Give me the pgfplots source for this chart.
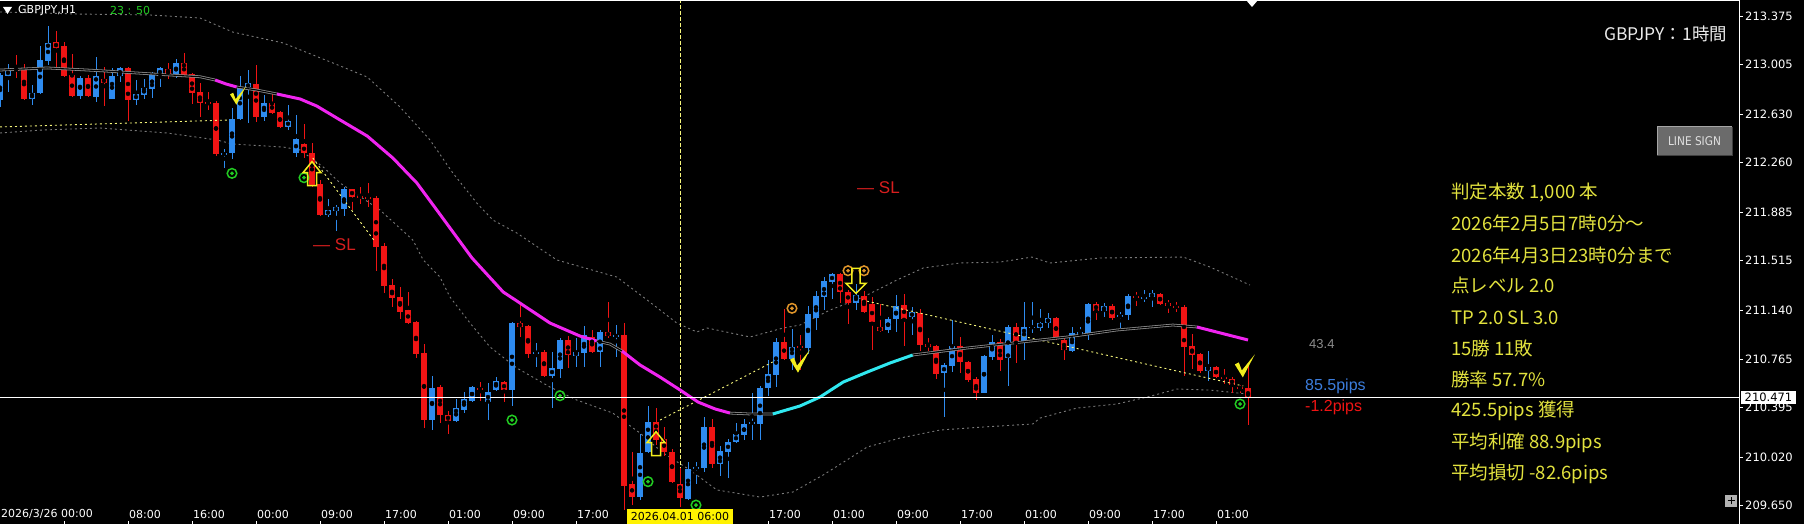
\documentclass[border=0pt]{standalone}
\usepackage{fontspec}
\usepackage{pgfplots}
\usepackage{pgfplotstable}
\pgfplotsset{compat=1.18}
\setmainfont{DejaVu Sans}
\newfontfamily\lib{Liberation Sans}
\newfontfamily\cjk{Noto Sans CJK JP}
\definecolor{cblue}{HTML}{2E8BEF}
\definecolor{cred}{HTML}{F01414}
\definecolor{cmag}{HTML}{F024F0}
\definecolor{ccyan}{HTML}{30E8F0}
\definecolor{cgrayma}{HTML}{8C8C8C}
\definecolor{cband}{HTML}{7A7A7A}
\definecolor{ctrend}{HTML}{F5F57A}
\definecolor{cgreen}{HTML}{22CC22}
\definecolor{corange}{HTML}{E0952A}
\definecolor{cyel}{HTML}{F2EE1E}
\definecolor{cstat}{HTML}{E2E23E}
\definecolor{cpipblue}{HTML}{3C7DDC}
\definecolor{cslred}{HTML}{D81E1E}

\pgfdeclareplotmark{uparrow}{%
 \pgfpathmoveto{\pgfqpoint{0pt}{0pt}}%
 \pgfpathlineto{\pgfqpoint{9pt}{-11pt}}%
 \pgfpathlineto{\pgfqpoint{4.5pt}{-11pt}}%
 \pgfpathlineto{\pgfqpoint{4.5pt}{-24pt}}%
 \pgfpathlineto{\pgfqpoint{-4.5pt}{-24pt}}%
 \pgfpathlineto{\pgfqpoint{-4.5pt}{-11pt}}%
 \pgfpathlineto{\pgfqpoint{-9pt}{-11pt}}%
 \pgfpathclose
 \pgfusepathqstroke}
\pgfdeclareplotmark{downarrow}{%
 \pgfpathmoveto{\pgfqpoint{0pt}{0pt}}%
 \pgfpathlineto{\pgfqpoint{10pt}{10pt}}%
 \pgfpathlineto{\pgfqpoint{4.2pt}{10pt}}%
 \pgfpathlineto{\pgfqpoint{4.2pt}{25pt}}%
 \pgfpathlineto{\pgfqpoint{-4.2pt}{25pt}}%
 \pgfpathlineto{\pgfqpoint{-4.2pt}{10pt}}%
 \pgfpathlineto{\pgfqpoint{-10pt}{10pt}}%
 \pgfpathclose
 \pgfusepathqstroke}
\pgfdeclareplotmark{chk}{%
 \pgfpathmoveto{\pgfqpoint{-10pt}{2pt}}%
 \pgfpathlineto{\pgfqpoint{-6pt}{4pt}}%
 \pgfpathlineto{\pgfqpoint{-3pt}{-4pt}}%
 \pgfpathlineto{\pgfqpoint{10pt}{12pt}}%
 \pgfpathlineto{\pgfqpoint{-2pt}{-11pt}}%
 \pgfpathclose
 \pgfusepathqfill}

% bullish candles: bar index, open, high, low, close
\pgfplotstableread{
i o h l c
0 212.737 212.943 212.684 212.927
1 212.920 213.011 212.800 212.971
4 212.745 212.851 212.704 212.788
5 212.788 213.148 212.783 213.041
6 213.034 213.300 213.003 213.173
10 212.768 212.920 212.745 212.907
12 212.762 213.064 212.724 212.920
14 212.745 212.978 212.742 212.920
15 212.920 212.991 212.876 212.978
17 212.737 212.889 212.699 212.783
18 212.775 212.897 212.745 212.831
19 212.821 212.952 212.750 212.935
20 212.920 212.991 212.838 212.983
22 212.920 213.049 212.902 213.021
28 212.319 212.362 212.217 212.334
29 212.332 212.676 212.290 212.590
30 212.590 212.920 212.585 212.836
31 212.834 212.965 212.560 212.864
33 212.608 212.775 212.580 212.717
36 212.534 212.699 212.509 212.580
37 212.336 212.623 212.301 212.438
41 211.862 211.982 211.849 211.900
42 211.895 211.938 211.743 211.921
43 211.905 212.073 211.854 212.058
54 210.302 210.637 210.226 210.548
57 210.297 210.460 210.285 210.396
58 210.378 210.518 210.358 210.460
59 210.449 210.561 210.441 210.551
61 210.441 210.586 210.302 210.513
62 210.530 210.627 210.525 210.601
64 210.530 211.050 210.411 211.038
67 210.810 210.886 210.708 210.822
69 210.637 210.822 210.391 210.700
70 210.690 210.924 210.619 210.911
72 210.789 210.931 210.708 210.822
73 210.814 211.017 210.708 210.949
75 210.822 210.987 210.708 210.974
77 210.936 211.025 210.779 210.949
80 209.719 210.196 209.690 210.051
81 210.055 210.409 210.049 210.285
86 209.701 209.985 209.697 209.929
87 209.927 209.985 209.820 209.945
88 209.935 210.323 209.909 210.251
90 209.967 210.104 209.876 210.066
91 210.061 210.155 209.859 210.137
92 210.132 210.277 210.125 210.196
93 210.188 210.307 210.150 210.272
94 210.272 210.510 210.150 210.289
95 210.277 210.561 210.150 210.548
96 210.543 210.764 210.485 210.657
97 210.644 210.924 210.556 210.898
99 210.769 210.997 210.683 210.858
101 210.854 211.173 210.804 211.109
102 211.076 211.288 210.987 211.246
103 211.236 211.390 211.139 211.360
104 211.355 211.423 211.223 211.413
107 211.195 211.337 211.139 211.253
111 210.987 211.088 210.966 211.071
112 211.068 211.253 210.974 211.170
114 211.084 211.160 210.949 211.126
118 210.657 210.738 210.327 210.721
119 210.713 211.063 210.667 210.865
123 210.510 210.797 210.508 210.789
124 210.784 210.949 210.759 210.898
126 210.772 211.025 210.561 211.012
128 210.898 211.202 210.759 211.012
129 211.005 211.202 210.962 211.012
130 211.006 211.152 210.979 211.040
131 211.040 211.116 211.002 211.078
134 210.829 211.008 210.822 210.962
135 210.959 211.008 210.949 210.970
136 210.959 211.195 210.911 211.190
138 211.134 211.190 211.088 211.170
140 211.084 211.122 211.000 211.101
141 211.101 211.261 211.063 211.246
143 211.228 211.291 211.202 211.240
144 211.236 211.291 211.164 211.269
151 210.677 210.825 210.599 210.708
}\upT
% bearish candles
\pgfplotstableread{
i o h l c
2 212.978 213.080 212.902 212.960
3 212.971 213.016 212.737 212.745
7 213.176 213.262 212.965 213.135
8 213.148 213.176 212.914 212.922
9 212.927 213.087 212.762 212.768
11 212.907 212.927 212.762 212.768
13 212.897 212.991 212.694 212.869
16 212.983 212.991 212.577 212.737
21 212.973 213.021 212.897 212.920
23 213.016 213.092 212.914 212.927
24 212.933 212.940 212.707 212.793
25 212.796 212.864 212.610 212.717
26 212.720 212.796 212.661 212.707
27 212.717 212.730 212.311 212.326
32 212.859 213.003 212.570 212.608
34 212.717 212.788 212.636 212.640
35 212.648 212.653 212.522 212.532
38 212.402 212.554 212.296 212.330
39 212.332 212.410 212.075 212.090
40 212.098 212.128 211.854 211.862
44 212.058 212.058 211.900 212.001
45 212.007 212.073 211.946 211.994
46 212.001 212.103 211.921 211.986
47 211.994 212.007 211.438 211.621
48 211.628 211.647 211.271 211.324
49 211.329 211.375 211.160 211.227
50 211.236 211.312 211.073 211.126
51 211.139 211.278 211.036 211.043
52 211.050 211.059 210.778 210.804
53 210.810 210.880 210.244 210.302
55 210.556 210.569 210.277 210.340
56 210.340 210.373 210.196 210.297
60 210.548 210.594 210.449 210.530
63 210.594 210.599 210.441 210.530
65 211.043 211.202 210.936 211.008
66 211.020 211.025 210.776 210.802
68 210.822 210.840 210.629 210.637
71 210.911 210.941 210.696 210.797
74 210.934 210.987 210.810 210.822
76 210.974 211.200 210.931 210.938
78 210.949 211.038 209.617 209.800
79 209.815 210.059 209.655 209.720
82 210.287 210.397 210.112 210.150
83 210.158 210.251 210.028 210.059
84 210.061 210.079 209.820 209.833
85 209.815 209.937 209.642 209.709
89 210.247 210.315 209.942 209.967
98 210.898 211.144 210.759 210.766
100 210.865 210.949 210.683 210.850
105 211.413 211.418 211.190 211.278
106 211.278 211.291 211.038 211.195
108 211.246 211.286 211.119 211.126
109 211.185 211.236 210.835 211.050
110 211.008 211.185 210.974 210.982
113 211.177 211.266 210.865 211.076
115 211.119 211.144 210.829 210.873
116 210.878 210.924 210.829 210.860
117 210.865 210.873 210.619 210.656
120 210.865 210.934 210.660 210.746
121 210.746 210.751 210.594 210.607
122 210.614 210.632 210.454 210.510
125 210.898 210.916 210.677 210.759
127 211.012 211.043 210.738 210.898
132 211.078 211.086 210.911 210.916
133 210.916 210.941 210.759 210.833
137 211.187 211.200 211.063 211.134
139 211.170 211.190 211.063 211.076
142 211.246 211.278 211.170 211.236
145 211.261 211.266 211.177 211.185
146 211.195 211.215 211.119 211.170
147 211.170 211.202 211.124 211.158
148 211.162 211.181 210.641 210.860
149 210.865 210.957 210.690 210.797
150 210.804 210.810 210.662 210.675
152 210.708 210.713 210.619 210.627
153 210.632 210.688 210.576 210.619
154 210.619 210.632 210.505 210.569
155 210.556 210.569 210.505 210.543
156 210.543 210.728 210.264 210.471
}\dnT

\begin{document}
\begin{tikzpicture}[x=1pt,y=1pt]
\path[use as bounding box] (0,0) rectangle (1804,524);
\fill[black] (0,0) rectangle (1804,524);
\begin{axis}[at={(0,0)}, anchor=south west, scale only axis,
  width=1739pt, height=524pt, xmin=0, xmax=217.375, ymin=209.511, ymax=213.498,
  hide axis]
% envelope bands
\addplot[cband, line width=0.9pt, dash pattern=on 2pt off 3pt] coordinates {
(0,213.407) (10,213.391) (18.75,213.384) (25,213.361) (29.1,213.254) (35.4,213.171)
(41.6,213.019) (45.9,212.912) (50,212.684) (53.75,212.433) (56.6,212.182) (59.6,211.953)
(61.6,211.824) (64.6,211.725) (69.6,211.520) (77.1,211.390) (80.9,211.215) (84.6,211.040)
(87.1,210.972) (88.4,211.002) (93.75,210.934) (97.9,211.002) (100,211.025) (103.75,211.139)
(107.9,211.238) (112.1,211.367) (115.4,211.459) (120,211.497) (125,211.504) (129,211.542)
(131.25,211.497) (137.5,211.535) (147.9,211.542) (151.25,211.466) (156.25,211.329)};
\addplot[cband, line width=0.9pt, dash pattern=on 2pt off 3pt] coordinates {
(0,212.486) (5.4,212.509) (12.5,212.524) (20.9,212.486) (27.1,212.433) (29.1,212.402)
(35.4,212.379) (37.5,212.357) (40.4,212.227) (42.5,212.106) (47.5,211.900) (51.6,211.672)
(52.9,211.520) (55,211.390) (56.25,211.238) (58.75,211.040) (61.25,210.858) (64.6,210.698)
(68.75,210.553) (72.1,210.454) (76.6,210.355) (80,210.203) (82.9,210.051) (86.25,209.922)
(89.6,209.770) (95,209.716) (99.1,209.754) (102.9,209.884) (106.25,210.013) (108.4,210.097)
(112.5,210.165) (117.5,210.226) (122.9,210.249) (129.1,210.272) (130,210.317) (134.6,210.393)
(139.6,210.424) (143.4,210.477) (147.1,210.538) (151.25,210.530) (155.9,210.500)};
% crosshair
\addplot[color=ctrend, line width=0.9pt, dash pattern=on 4pt off 2pt] coordinates {(85.04,209.64) (85.04,213.498)};
% candles: wicks and bodies
\addplot[only marks, mark=none, forget plot, error bars/.cd, y dir=both, y explicit, error mark=none,
  error bar style={line width=1pt, draw=cblue}]
  table[x=i, y expr={(\thisrow{h}+\thisrow{l})/2}, y error expr={(\thisrow{h}-\thisrow{l})/2}] {\upT};
\addplot[only marks, mark=none, forget plot, error bars/.cd, y dir=both, y explicit, error mark=none,
  error bar style={line width=1pt, draw=cred}]
  table[x=i, y expr={(\thisrow{h}+\thisrow{l})/2}, y error expr={(\thisrow{h}-\thisrow{l})/2}] {\dnT};
\addplot[only marks, mark=none, forget plot, error bars/.cd, y dir=both, y explicit, error mark=none,
  error bar style={line width=6pt, draw=cblue}]
  table[x=i, y expr={(\thisrow{o}+\thisrow{c})/2}, y error expr={max(abs(\thisrow{o}-\thisrow{c})/2,0.0045)}] {\upT};
\addplot[only marks, mark=none, forget plot, error bars/.cd, y dir=both, y explicit, error mark=none,
  error bar style={line width=6pt, draw=cred}]
  table[x=i, y expr={(\thisrow{o}+\thisrow{c})/2}, y error expr={max(abs(\thisrow{o}-\thisrow{c})/2,0.0045)}] {\dnT};
% signal trend lines
\addplot[ctrend, line width=0.9pt, dash pattern=on 2pt off 3pt] coordinates {(0,212.532) (28.75,212.585)};
\addplot[ctrend, line width=0.9pt, dash pattern=on 2pt off 3pt] coordinates {(39.1,212.296) (46.9,211.657)};
\addplot[ctrend, line width=0.9pt, dash pattern=on 2pt off 3pt] coordinates {(82.5,210.302) (96.6,210.744)};
\addplot[ctrend, line width=0.9pt, dash pattern=on 2pt off 3pt] coordinates {(107.75,211.215) (155.4,210.561)};
% moving average, coloured by slope
\addplot[cgrayma, line width=0.8pt, double=black, double distance=1.1pt] coordinates {
(0,212.965) (5.9,212.981) (12.5,212.960) (19.1,212.935) (25,212.914) (26.9,212.889)};
\addplot[cmag, line width=3pt] coordinates {(26.9,212.889) (28.25,212.859) (29.6,212.836)};
\addplot[cgrayma, line width=0.8pt, double=black, double distance=1.1pt] coordinates {
(29.6,212.836) (32.1,212.813) (34.6,212.783)};
\addplot[cmag, line width=3pt] coordinates {
(34.6,212.783) (37.5,212.745) (39.6,212.691) (42.1,212.600) (45.9,212.463) (49.1,212.296)
(52.1,212.106) (54.6,211.900) (56.25,211.763) (59,211.535) (62.9,211.276) (65,211.192)
(68.75,211.040) (72.5,210.941) (74.6,210.903)};
\addplot[cgrayma, line width=0.8pt, double=black, double distance=1.1pt] coordinates {
(74.6,210.903) (76.25,210.880) (77.75,210.827)};
\addplot[cmag, line width=3pt] coordinates {
(77.75,210.827) (80,210.721) (82.5,210.629) (85,210.531) (87.25,210.439) (89.4,210.386) (91.25,210.355)};
\addplot[cgrayma, line width=0.8pt, double=black, double distance=1.1pt] coordinates {
(91.25,210.355) (93.75,210.348) (96.6,210.348)};
\addplot[ccyan, line width=3pt] coordinates {
(96.6,210.348) (100,210.409) (102.5,210.477) (105.4,210.591) (108.4,210.667) (111.25,210.736) (114.1,210.797)};
\addplot[cgrayma, line width=0.8pt, double=black, double distance=1.1pt] coordinates {
(114.1,210.797) (120.9,210.850) (126.6,210.888) (133.4,210.934) (139.6,210.987) (146.6,211.025) (149.6,211.010)};
\addplot[cmag, line width=3pt] coordinates {(149.6,211.010) (156,210.911)};
% current price line
\addplot[white, line width=1pt] coordinates {(0,210.471) (217.375,210.471)};
% signals
\addplot[only marks, mark=o, mark size=4.8pt, mark options={draw=cgreen, line width=1.5pt}] coordinates {
(29,212.179) (38,212.146) (64,210.302) (70,210.487) (81,209.833) (87,209.655) (155,210.424)};
\addplot[only marks, mark=*, mark size=1.7pt, mark options={draw=cgreen, fill=cgreen}] coordinates {
(29,212.179) (38,212.146) (64,210.302) (70,210.487) (81,209.833) (87,209.655) (155,210.424)};
\addplot[only marks, mark=o, mark size=4.8pt, mark options={draw=corange, line width=1.5pt}] coordinates {
(99,211.152) (106,211.438) (108,211.438)};
\addplot[only marks, mark=*, mark size=1.7pt, mark options={draw=corange, fill=corange}] coordinates {
(99,211.152) (106,211.438) (108,211.438)};
\addplot[only marks, mark=uparrow, mark options={draw=cyel, line width=1.5pt}] coordinates {(39,212.268) (82,210.213)};
\addplot[only marks, mark=downarrow, mark options={draw=cyel, line width=1.5pt}] coordinates {(107,211.266)};
\addplot[only marks, mark=chk, mark options={fill=cyel, draw=none, scale=0.8}] coordinates {(29.75,212.768)};
\addplot[only marks, mark=chk, mark options={fill=cyel, draw=none}] coordinates {(100,210.746) (155.6,210.71)};
\end{axis}
% frame
\draw[white, line width=1pt] (0,523.5) -- (1739,523.5);
\draw[white, line width=1pt] (1739,0) -- (1739,524);
% price scale
\foreach \p/\yy in {213.375/507.8, 213.005/459.2, 212.630/409.9, 212.260/361.3, 211.885/312.0,
  211.515/263.4, 211.140/214.0, 210.765/164.8, 210.395/116.2, 210.020/66.9, 209.650/18.3} {
  \draw[white, line width=0.8pt] (1739,\yy) -- (1743,\yy);
  \node[anchor=west, inner sep=0pt, text=white, font=\fontsize{11.5}{13}\selectfont] at (1745,\yy) {\p};
}
\fill[white] (1741,119.7) rectangle (1796,132.7);
\node[inner sep=0pt, text=black, font=\fontsize{11.5}{13}\selectfont] at (1768.5,126.2) {210.471};
% time scale
\foreach \xx in {64,128,...,1216} { \draw[white, line width=0.8pt] (\xx,0) -- (\xx,3); }
\node[anchor=west, inner sep=0pt, text=white, font=\fontsize{11}{13}\selectfont] at (1,10) {2026/3/26 00:00};
\foreach \xx/\t in {128/08:00, 192/16:00, 256/00:00, 320/09:00, 384/17:00, 448/01:00, 512/09:00,
  576/17:00, 768/17:00, 832/01:00, 896/09:00, 960/17:00, 1024/01:00, 1088/09:00, 1152/17:00, 1216/01:00} {
  \node[anchor=west, inner sep=0pt, text=white, font=\fontsize{11}{13}\selectfont] at (\xx+1,10) {\t};
}
\fill[yellow] (627,0) rectangle (733,15);
\node[inner sep=0pt, text=black, font=\fontsize{11}{13}\selectfont] at (680,8) {2026.04.01 06:00};
% header
\fill[white] (3,517) -- (12,517) -- (7.5,510) -- cycle;
\node[anchor=west, inner sep=0pt, text=white, font=\fontsize{11}{13}\selectfont] at (18,513) {GBPJPY,H1};
\node[anchor=west, inner sep=0pt, text=cgreen, font=\fontsize{11}{13}\selectfont] at (110,513) {23 : 50};
\fill[white] (1246,524) -- (1258,524) -- (1252,517) -- cycle;
% right panel
\node[anchor=east, inner sep=0pt, text=white!92!black, font=\cjk\fontsize{17.4}{20}\selectfont] at (1727,490.5) {GBPJPY：1時間};
\fill[white!42!black] (1657,368) rectangle (1732,397);
\draw[white!65!black, line width=1pt] (1657,368) -- (1657,397) -- (1732,397);
\draw[white!25!black, line width=1pt] (1657,368) -- (1732,368) -- (1732,397);
\node[inner sep=0pt, text=white!88!black, font=\fontsize{12}{14}\selectfont, xscale=0.88] at (1694.5,382.5) {LINE SIGN};
\begin{scope}[every node/.style={anchor=west, inner sep=0pt, text=cstat, font=\cjk\fontsize{18.5}{22}\selectfont}]
\node at (1451,331.3) {判定本数 1,000 本};
\node at (1451,300.7) {2026年2月5日7時0分～};
\node at (1451,269.0) {2026年4月3日23時0分まで};
\node at (1451,238.3) {点レベル 2.0};
\node at (1451,206.3) {TP 2.0 SL 3.0};
\node at (1451,175.3) {15勝 11敗};
\node at (1451,144.7) {勝率 57.7\%};
\node at (1451,113.0) {425.5pips 獲得};
\node at (1451,80.7) {平均利確 88.9pips};
\node at (1451,50.0) {平均損切 -82.6pips};
\end{scope}
\fill[white!70!black] (1725,17) rectangle (1737,29);
\draw[black, line width=1pt] (1727.5,23) -- (1734.5,23) (1731,19.5) -- (1731,26.5);
% annotations
\node[anchor=west, inner sep=0pt, text=cslred, font=\lib\fontsize{17}{20}\selectfont] at (313,279) {— SL};
\node[anchor=west, inner sep=0pt, text=cslred, font=\lib\fontsize{17}{20}\selectfont] at (857,336.5) {— SL};
\node[anchor=west, inner sep=0pt, text=white!55!black, font=\lib\fontsize{13}{15}\selectfont] at (1309,180) {43.4};
\node[anchor=west, inner sep=0pt, text=cpipblue, font=\lib\fontsize{16}{18}\selectfont] at (1305,137.4) {85.5pips};
\node[anchor=west, inner sep=0pt, text=cred, font=\lib\fontsize{16}{18}\selectfont] at (1305,117) {-1.2pips};
\end{tikzpicture}
\end{document}
